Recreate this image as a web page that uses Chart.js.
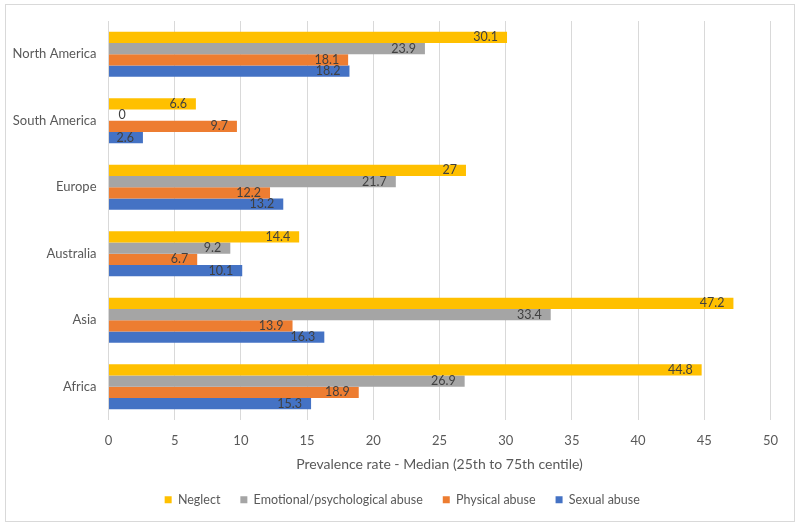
<!DOCTYPE html>
<html>
<head>
<meta charset="utf-8">
<script src="https://cdn.jsdelivr.net/npm/chart.js@4"></script>
<style>
  html, body { margin: 0; padding: 0; background: #fff; }
  #wrap { width: 800px; height: 526px; position: relative; }
</style>
</head>
<body>
<div id="wrap"><canvas id="chart" width="800" height="526"></canvas></div>
<script>
// Chart data
const regions = ['North America', 'South America', 'Europe', 'Australia', 'Asia', 'Africa'];
const neglect = [30.1, 6.6, 27, 14.4, 47.2, 44.8];
const emotional = [23.9, 0, 21.7, 9.2, 33.4, 26.9];
const physical = [18.1, 9.7, 12.2, 6.7, 13.9, 18.9];
const sexual = [18.2, 2.6, 13.2, 10.1, 16.3, 15.3];
const seriesNames = ['Neglect', 'Emotional/psychological abuse', 'Physical abuse', 'Sexual abuse'];
const xTicks = [0, 5, 10, 15, 20, 25, 30, 35, 40, 45, 50];

const FONT = "Lato, 'Open Sans', sans-serif";

// outer frame like the office chart border, plus nudge legend to page centre
const framePlugin = {
  id: 'frame',
  afterLayout(chart) {
    if (chart.legend) chart.legend.left = 34;
  },
  beforeDraw(chart) {
    const ctx = chart.ctx;
    ctx.save();
    ctx.strokeStyle = '#d9d9d9';
    ctx.lineWidth = 1;
    ctx.strokeRect(5.5, 4.5, 789, 517);
    ctx.restore();
  }
};

// value labels at the inside end of each bar
const valueLabels = {
  id: 'valueLabels',
  afterDatasetsDraw(chart) {
    const ctx = chart.ctx;
    ctx.save();
    ctx.font = '12.5px ' + FONT;
    ctx.fillStyle = '#404040';
    ctx.textBaseline = 'middle';
    chart.data.datasets.forEach((ds, i) => {
      const meta = chart.getDatasetMeta(i);
      meta.data.forEach((bar, j) => {
        const v = ds.data[j];
        const txt = String(v);
        if (v === 0) {
          ctx.textAlign = 'left';
          ctx.fillText(txt, bar.base + 10, bar.y);
        } else {
          ctx.textAlign = 'right';
          ctx.fillText(txt, bar.x - 9, bar.y);
        }
      });
    });
    ctx.restore();
  }
};

new Chart(document.getElementById('chart'), {
  type: 'bar',
  data: {
    labels: regions,
    datasets: [
      { label: seriesNames[0], data: neglect, backgroundColor: '#ffc000' },
      { label: seriesNames[1], data: emotional, backgroundColor: '#a5a5a5' },
      { label: seriesNames[2], data: physical, backgroundColor: '#ed7d31' },
      { label: seriesNames[3], data: sexual, backgroundColor: '#4472c4' }
    ]
  },
  options: {
    indexAxis: 'y',
    responsive: false,
    animation: false,
    datasets: {
      bar: { categoryPercentage: 0.68, barPercentage: 1.0 }
    },
    layout: {
      padding: { top: 21, right: 29.5, bottom: 10, left: 0 }
    },
    scales: {
      x: {
        min: 0,
        max: 50,
        afterBuildTicks(scale) {
          scale.ticks = xTicks.map(v => ({ value: v }));
        },
        afterFit(scale) { scale.height = 53.5; },
        grid: { color: '#d9d9d9', drawTicks: false },
        border: { display: false },
        ticks: {
          color: '#595959',
          font: { family: FONT, size: 13 },
          padding: 13
        },
        title: {
          display: true,
          text: 'Prevalence rate - Median (25th to 75th centile)',
          color: '#595959',
          font: { family: FONT, size: 14 },
          padding: { top: 0, bottom: 1 }
        }
      },
      y: {
        afterFit(scale) { scale.width = 108.5; },
        grid: { display: false },
        border: { display: false },
        ticks: {
          color: '#595959',
          font: { family: FONT, size: 13 },
          padding: 4
        }
      }
    },
    plugins: {
      legend: {
        position: 'bottom',
        labels: {
          boxWidth: 7,
          boxHeight: 7,
          padding: 20,
          color: '#595959',
          font: { family: FONT, size: 12.5 }
        }
      },
      tooltip: { enabled: false }
    }
  },
  plugins: [framePlugin, valueLabels]
});
</script>
</body>
</html>
